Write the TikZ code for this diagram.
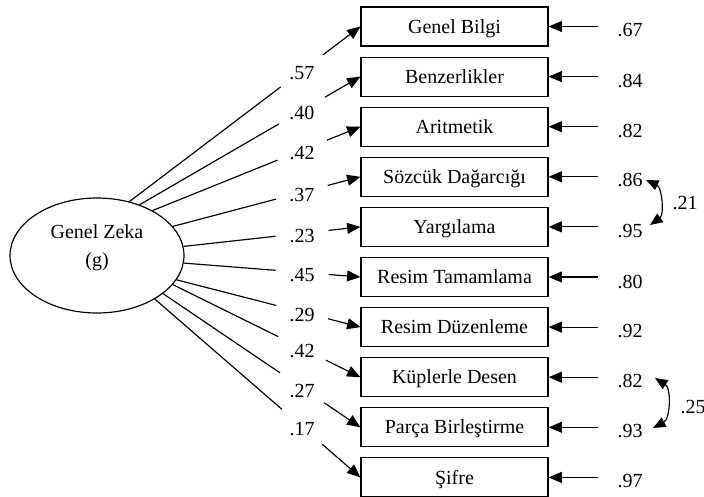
\documentclass[tikz,border=0pt]{standalone}
\usepackage{fontspec}
\setmainfont{Liberation Serif}
\usetikzlibrary{arrows.meta,calc,shapes.geometric}

\begin{document}
\begin{tikzpicture}[x=.6pt,y=-.6pt,line width=.7pt,font=\fontsize{12}{14}\selectfont,
  tip/.style={-{Triangle[length=8pt,width=6.6pt]}},
  tips/.style={{Triangle[length=7.5pt,width=6.2pt]}-{Triangle[length=7.5pt,width=6.2pt]}},
  gap/.style={circle,minimum size=32pt,inner sep=0pt,outer sep=0pt,text height=11pt,text depth=0pt}]%
\useasboundingbox (0,0) rectangle (704,497);
% latent factor
\node[draw,ellipse,minimum width=104.4pt,minimum height=69pt,inner sep=0pt] (g) at (97,255.5) {}; %%
\node[align=center,font=\fontsize{12}{16.8}\selectfont] (gt) at (97,248) {Genel Zeka\\(g)}; %%
% subtests
\begin{scope}[minimum width=112.2pt,minimum height=23.4pt,inner sep=0pt,text height=8pt,text depth=0pt]%
\tikzstyle{every node}=[draw,rectangle] %%
\node (b1) at (454.5,26.5)  {Genel Bilgi}; %%
\node (b2) at (454.5,76.6)  {Benzerlikler}; %%
\node (b3) at (454.5,126.7) {Aritmetik}; %%
\node (b4) at (454.5,176.8) {Sözcük Dağarcığı}; %%
\node (b5) at (454.5,226.9) {Yargılama}; %%
\node (b6) at (454.5,277)   {Resim Tamamlama}; %%
\node (b7) at (454.5,327.1) {Resim Düzenleme}; %%
\node (b8) at (454.5,377.2) {Küplerle Desen}; %%
\node (b9) at (454.5,427.3) {Parça Birleştirme}; %%
\node (b10) at (454.5,477.4) {Şifre}; %%
\end{scope}
% loadings
\node[gap] (l1) at ($(g.59)!.747!(b1.west)$) {.57}; %%
\node[gap] (l2) at ($(g.50.5)!.735!(b2.west)$) {.40}; %%
\node[gap] (l3) at ($(g.39.5)!.72!(b3.west)$) {.42}; %%
\node[gap] (l4) at ($(g.21)!.688!(b4.west)$) {.37}; %%
\node[gap] (l5) at ($(g.6.3)!.67!(b5.west)$) {.23}; %%
\node[gap] (l6) at ($(g.-5)!.67!(b6.west)$) {.45}; %%
\node[gap] (l7) at ($(g.-17.2)!.683!(b7.west)$) {.29}; %%
\node[gap] (l8) at ($(g.-21.8)!.689!(b8.west)$) {.42}; %%
\node[gap] (l9) at ($(g.-30.3)!.705!(b9.west)$) {.27}; %%
\node[gap] (l10) at ($(g.-37.2)!.716!(b10.west)$) {.17}; %%
\draw (g.59)--(l1); \draw[tip] (l1)--(b1.west); %%
\draw (g.50.5)--(l2); \draw[tip] (l2)--(b2.west); %%
\draw (g.39.5)--(l3); \draw[tip] (l3)--(b3.west); %%
\draw (g.21)--(l4); \draw[tip] (l4)--(b4.west); %%
\draw (g.6.3)--(l5); \draw[tip] (l5)--(b5.west); %%
\draw (g.-5)--(l6); \draw[tip] (l6)--(b6.west); %%
\draw (g.-17.2)--(l7); \draw[tip] (l7)--(b7.west); %%
\draw (g.-21.8)--(l8); \draw[tip] (l8)--(b8.west); %%
\draw (g.-30.3)--(l9); \draw[tip] (l9)--(b9.west); %%
\draw (g.-37.2)--(l10); \draw[tip] (l10)--(b10.west); %%
% error terms
\node (e1) at (630,30.5)  {.67}; %%
\node (e2) at (630,81)    {.84}; %%
\node (e3) at (630,131)   {.82}; %%
\node (e4) at (630,180)   {.86}; %%
\node (e5) at (630,231)   {.95}; %%
\node (e6) at (630,281.5) {.80}; %%
\node (e7) at (630,331)   {.92}; %%
\node (e8) at (630,380.5) {.82}; %%
\node (e9) at (630,431)   {.93}; %%
\node (e10) at (630,481.5) {.97}; %%
\coordinate (s1) at (598,26.5); \draw[tip] (s1)--(b1.east); %%
\coordinate (s2) at (598,76.6); \draw[tip] (s2)--(b2.east); %%
\coordinate (s3) at (598,126.7); \draw[tip] (s3)--(b3.east); %%
\coordinate (s4) at (598,176.8); \draw[tip] (s4)--(b4.east); %%
\coordinate (s5) at (598,226.9); \draw[tip] (s5)--(b5.east); %%
\coordinate (s6) at (598,277); \draw[tip] (s6)--(b6.east); %%
\coordinate (s7) at (598,327.1); \draw[tip] (s7)--(b7.east); %%
\coordinate (s8) at (598,377.2); \draw[tip] (s8)--(b8.east); %%
\coordinate (s9) at (598,427.3); \draw[tip] (s9)--(b9.east); %%
\coordinate (s10) at (598,477.4); \draw[tip] (s10)--(b10.east); %%
% error covariances
\coordinate (c1) at (646,180); \coordinate (c2) at (650,225); %%
\coordinate (c3) at (655,378); \coordinate (c4) at (653,428); %%
\draw[tips] (c1) to[bend left=60] (c2); %%
\draw[tips] (c3) to[bend left=60] (c4); %%
\node (r1) at (685,203) {.21}; %%
\node (r2) at (693,407) {.25}; %%
\end{tikzpicture}
\end{document}
